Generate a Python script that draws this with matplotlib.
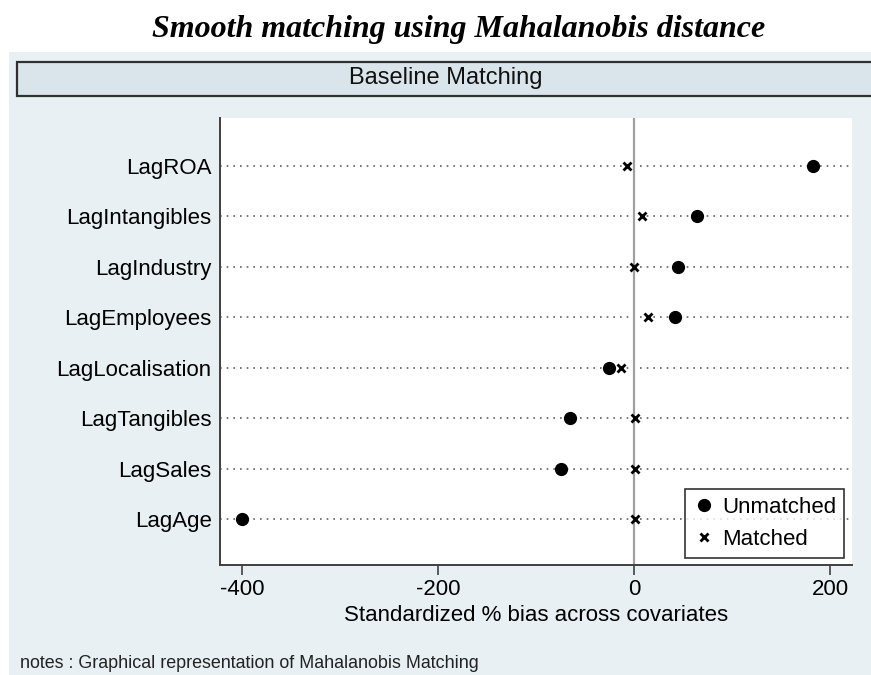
import matplotlib
matplotlib.use("Agg")
import matplotlib.pyplot as plt
from matplotlib.patches import Rectangle

covariates = ["LagROA", "LagIntangibles", "LagIndustry", "LagEmployees",
              "LagLocalisation", "LagTangibles", "LagSales", "LagAge"]
unmatched = [182.5, 64, 45, 42, -26, -65, -74.5, -400]
matched = [-7.5, 8, 0, 14, -13, 1.5, 1.5, 1.5]
xticks = [-400, -200, 0, 200]

panel_bg = "#e8f0f3"
sans = ["Liberation Sans", "DejaVu Sans"]

fig = plt.figure(figsize=(8.71, 6.75), dpi=100)
fig.patch.set_facecolor("white")

# stata-ish graph region
fig.patches.append(Rectangle((9 / 871, 0), 1, (675 - 52) / 675, transform=fig.transFigure,
                             facecolor=panel_bg, edgecolor="none", zorder=-2))
fig.patches.append(Rectangle((17 / 871, (675 - 96) / 675), 1, 34 / 675, transform=fig.transFigure,
                             facecolor="#d9e5eb", edgecolor="#303030", lw=1.6, zorder=-1))
fig.text(446 / 871, (675 - 78) / 675, "Baseline Matching", ha="center", va="center",
         fontsize=17, family=sans, color="#111111")

fig.text(459 / 871, (675 - 29) / 675, "Smooth matching using Mahalanobis distance",
         ha="center", va="center", fontsize=23, family="Liberation Serif",
         fontweight="bold", fontstyle="italic")

ax = fig.add_axes([220 / 871, (675 - 565) / 675, 632 / 871, 447 / 675])
ax.set_facecolor("white")

ypos = list(range(len(covariates), 0, -1))
for y in ypos:
    ax.axhline(y, color="#606060", lw=1.2, ls=(0, (1, 3)), zorder=1)
ax.axvline(0, color="#a0a0a0", lw=1.6, zorder=2)

ax.plot(unmatched, ypos, "o", color="black", ms=8.5, ls="none", label="Unmatched", zorder=4)
ax.plot(matched, ypos, "x", color="black", ms=5.5, mew=2, ls="none", label="Matched", zorder=4)

ax.set_xlim(-422.5, 222.5)
ax.set_ylim(1 - 46 / 50.4, 8 + 48 / 50.4)
ax.set_yticks(ypos)
ax.set_yticklabels(covariates, family=sans, fontsize=16)
ax.set_xticks(xticks)
ax.set_xticklabels([str(v) for v in xticks], family=sans, fontsize=16)
ax.tick_params(axis="y", length=0, pad=6)
ax.tick_params(axis="x", length=7, width=1.2, color="#404040", pad=3)
ax.set_xlabel("Standardized % bias across covariates", family=sans, fontsize=16, labelpad=4)

for s in ["top", "right"]:
    ax.spines[s].set_visible(False)
for s in ["left", "bottom"]:
    ax.spines[s].set_color("#404040")
    ax.spines[s].set_linewidth(1.4)

leg = ax.legend(loc="lower right", bbox_to_anchor=(0.987, 0.0157), borderaxespad=0,
                prop={"family": sans, "size": 16}, frameon=True, fancybox=False,
                edgecolor="black", handletextpad=0.3, handlelength=1.0,
                borderpad=0.35, labelspacing=0.5)
leg.get_frame().set_linewidth(1.2)

fig.text(20 / 871, (675 - 664) / 675, "notes : Graphical representation of Mahalanobis Matching",
         ha="left", va="center", fontsize=12.9, family=sans, color="#222222")

fig.savefig("out.png", dpi=100)
